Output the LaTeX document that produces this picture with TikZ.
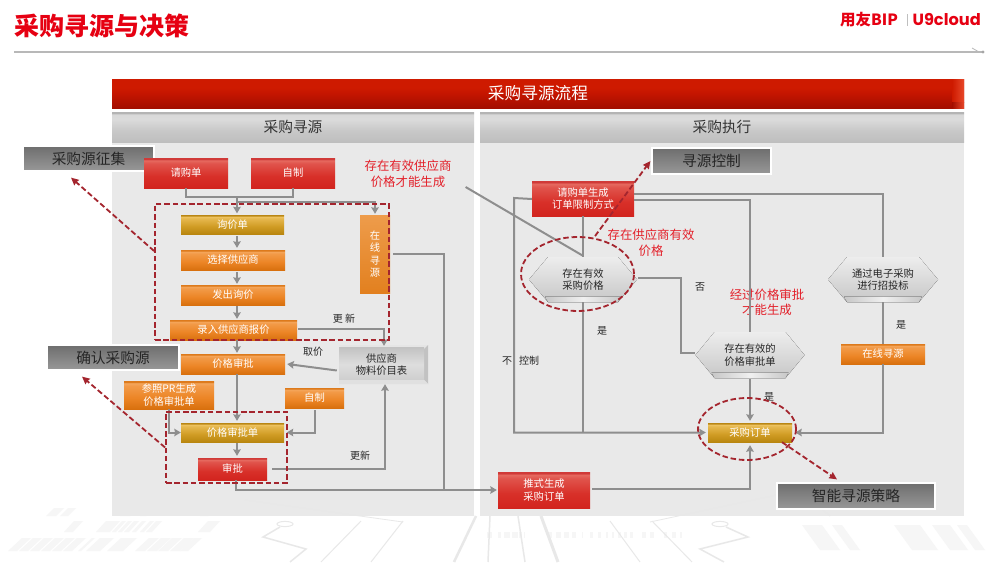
\documentclass[tikz,border=0pt]{standalone}
\usepackage{fontspec}
\usetikzlibrary{arrows.meta,shapes.geometric,calc}
\setmainfont{Noto Sans CJK SC}
\newfontfamily\logofont{Poppins}
\definecolor{panelgray}{HTML}{E9E9E9}
\definecolor{conngray}{HTML}{8E8E8E}
\definecolor{dashred}{HTML}{A4252E}
\definecolor{notered}{HTML}{E3202A}
\definecolor{brandred}{HTML}{E60012}
\definecolor{decogray}{HTML}{F6F6F6}
\definecolor{decoline}{HTML}{E8E8E8}
\definecolor{tagtop}{HTML}{6E6E6E}
\definecolor{tagbot}{HTML}{989898}
\definecolor{oa}{HTML}{D8700E}\definecolor{ob}{HTML}{EC8526}\definecolor{oc}{HTML}{F29A48}\definecolor{od}{HTML}{F4A65C}\definecolor{oe}{HTML}{DD7A1C}
\definecolor{ga}{HTML}{B9860F}\definecolor{gb}{HTML}{D09C24}\definecolor{gc}{HTML}{E6B84E}\definecolor{gd}{HTML}{EFC565}\definecolor{ge}{HTML}{B98614}
\definecolor{ra}{HTML}{D2241E}\definecolor{rb}{HTML}{D83029}\definecolor{rc}{HTML}{E0544C}\definecolor{rd}{HTML}{E66A60}\definecolor{re}{HTML}{D03A38}
\definecolor{ha}{HTML}{BEBEBE}\definecolor{hb}{HTML}{C9C9C9}\definecolor{hc}{HTML}{DCDCDC}\definecolor{hd}{HTML}{D8D8D8}\definecolor{he}{HTML}{B4B4B4}
\definecolor{ba}{HTML}{A30E00}\definecolor{bb}{HTML}{C41500}\definecolor{bc}{HTML}{CE1A00}\definecolor{bd}{HTML}{E8482A}
\definecolor{talltop}{HTML}{EE9C4B}\definecolor{tallbot}{HTML}{E2801F}
\pgfdeclareverticalshading{orangeshade}{100bp}{color(0bp)=(oa);color(25bp)=(oa);color(45bp)=(ob);color(66bp)=(oc);color(71bp)=(od);color(73.2bp)=(oe);color(75bp)=(oe);color(100bp)=(oe)}
\pgfdeclareverticalshading{goldshade}{100bp}{color(0bp)=(ga);color(25bp)=(ga);color(45bp)=(gb);color(66bp)=(gc);color(71bp)=(gd);color(73.2bp)=(ge);color(75bp)=(ge);color(100bp)=(ge)}
\pgfdeclareverticalshading{redshade}{100bp}{color(0bp)=(ra);color(25bp)=(ra);color(45bp)=(rb);color(66bp)=(rc);color(71bp)=(rd);color(73.2bp)=(re);color(75bp)=(re);color(100bp)=(re)}
\pgfdeclareverticalshading{headshade}{100bp}{color(0bp)=(ha);color(25bp)=(ha);color(45bp)=(hb);color(64bp)=(hc);color(71bp)=(hd);color(73bp)=(he);color(75bp)=(he);color(100bp)=(he)}
\pgfdeclareverticalshading{bannershade}{100bp}{color(0bp)=(ba);color(25bp)=(ba);color(50bp)=(bb);color(60bp)=(bc);color(75bp)=(bc);color(100bp)=(bc)}
\tikzset{
  x=1pt,y=-1pt,
  txt/.style={inner sep=0pt,align=center,font=\fontsize{10.3}{12.5}\selectfont,text=white},
  sized/.style 2 args={minimum width=#1 pt,minimum height=#2 pt},
  orangebox/.style={txt,shading=orangeshade},
  tallbox/.style={txt,top color=talltop,bottom color=tallbot},
  goldbox/.style={txt,shading=goldshade},
  redbox/.style={txt,shading=redshade},
  tagbox/.style={txt,draw=white,line width=1.2pt,top color=tagtop,bottom color=tagbot,text=black!85,font=\fontsize{14.7}{17}\selectfont},
  headbox/.style={txt,shading=headshade,text=black!80,font=\fontsize{14.7}{17}\selectfont},
  conn/.style={draw=conngray,line width=2pt,line join=miter},
  arr/.style={conn,-{Stealth[length=6.5pt,width=7.5pt,inset=0.8pt]}},
  rdash/.style={draw=dashred,line width=1.8pt,dash pattern=on 5.5pt off 2.8pt},
  rarr/.style={rdash,-{Stealth[length=7.5pt,width=7pt,inset=0.5pt,fill=dashred]}},
  small/.style={inner sep=0pt,font=\fontsize{10}{12}\selectfont,text=black!85},
  note/.style={inner sep=0pt,align=center,font=\fontsize{12.4}{15.5}\selectfont,text=notered},
  deco/.style={fill=decogray,draw=none},
  decol/.style={draw=decoline,line width=1pt},
}
\newcommand{\hexn}[6]{% name, cx, cy, half width, half height, text
  \fill[top color=black!7,bottom color=black!22] ({#2-#4},{#3}) -- ({#2-#4+19},{#3-#5}) -- ({#2+#4-19},{#3-#5}) -- ({#2+#4},{#3}) -- ({#2+#4-19},{#3+#5}) -- ({#2-#4+19},{#3+#5}) -- cycle;
  \fill[left color=black!22,right color=black!22,middle color=black!6] ({#2-#4+16},{#3+#5-5.5}) -- ({#2+#4-16},{#3+#5-5.5}) -- ({#2+#4-19},{#3+#5}) -- ({#2-#4+19},{#3+#5}) -- cycle;
  \node[small,align=center,font=\fontsize{10.3}{12.5}\selectfont,minimum width={2*#4 pt},minimum height={2*#5 pt}] (#1) at (#2,#3) {#6};
}
\newcommand{\strip}[4]{% y top, height, slant, list x/w
  \foreach \xa/\wa in {#4} {\fill[deco] ({\xa+#3},{#1}) -- ({\xa+\wa+#3},{#1}) -- ({\xa+\wa},{#1+#2}) -- ({\xa},{#1+#2}) -- cycle;}
}
\begin{document}
\begin{tikzpicture}
\path[use as bounding box] (0,0) rectangle (1000,562);
\fill[white] (0,0) rectangle (1000,562);
% background circuit decoration
\strip{538}{13}{14}{8/9,19/9,30/9,41/9,52/9,63/9,78/3,86/14,107/16,135/10,147/10,158/10,170/10,180/8}
\strip{521}{11}{10}{64/9,96/14,112/4,118/4,124/5,132/4,140/4,146/6,198/12}
\strip{508}{8}{8}{46/10,60/8,120/10,140/6,200/8}
\strip{525}{25}{-18}{820/20,850/10,912/26,950/18,975/10}
\foreach \xa/\wa in {487/5,498/3,504/6,512/6,519/3,524/1,548/4,556/5,564/5,572/4,582/1,590/3,598/3,606/2,612/2,618/3,624/3,630/3,642/4,650/4,664/3,672/4,680/2}
  \fill[decogray] (\xa,532) rectangle ({\xa+\wa},538);
\draw[decol] (285,524) ellipse (8 and 2.6);
\draw[decol,line width=1.5pt] (280,527) -- (263,537) -- (306,549) -- (290,562);
\draw[decol] (361,521) -- (321,562);
\draw[decol] (403,521) -- (371,562);
\draw[decol] (720,524) ellipse (8 and 2.6);
\draw[decol,line width=1.5pt] (726,527) -- (748,537) -- (700,549) -- (724,562);
\draw[decol] (610,521) -- (640,562);
\draw[decol] (652,521) -- (692,562);
\draw[decol,line width=2.5pt] (476,516) -- (454,562);
\draw[decol,line width=1.5pt] (490,516) -- (488,562);
\draw[decol,line width=1.5pt] (518,516) -- (525,562);
\draw[decol,line width=3pt] (541,516) -- (558,562);
% panels
\fill[panelgray] (112,112) rectangle (474,516);
\fill[panelgray] (480,112) rectangle (964,516);
\draw[black!9,line width=.8pt] (245,500) -- (403,522);
\draw[black!9,line width=.8pt] (650,522) -- (800,490) -- (830,516);
% title
\node[anchor=west,inner sep=0pt,text=brandred,font=\fontsize{25}{28}\bfseries\selectfont] (title) at (14,26) {采购寻源与决策};
\node[anchor=west,inner sep=0pt,text=brandred,font=\fontsize{15.5}{16}\bfseries\selectfont] (logoa) at (840,20) {用友BIP};
\node[anchor=east,inner sep=0pt,text=brandred,font=\fontsize{16.2}{16}\logofont\bfseries\selectfont] (logob) at (981,20) {U9cloud};
\draw[black!25,line width=.9pt] (907,14) -- (907,26);
\draw[black!28,line width=1.2pt] (14,52) -- (983,52);
\draw[black!28,line width=.8pt] (972,48) -- (979,52);
\fill[black!35] (983,52) circle (1.6);
% banner
\node[txt,shading=bannershade,sized={852}{29},font=\fontsize{16.7}{19}\selectfont] (banner) at (538,93.5) {采购寻源流程};
\shade[left color=bc,right color=bd] (952,79) rectangle (964,102);
\shade[left color=ba,right color=bd] (952,102) rectangle (964,108);
\node[headbox,sized={362}{30}] (headL) at (293,127) {采购寻源};
\node[headbox,sized={484}{30}] (headR) at (722,127) {采购执行};
% tags
\node[tagbox,sized={131}{25}] (tagA) at (88.5,158.5) {采购源征集};
\node[tagbox,sized={132}{25}] (tagB) at (113,357.5) {确认采购源};
\node[tagbox,sized={119}{26}] (tagC) at (711.5,161) {寻源控制};
\node[tagbox,sized={158}{26}] (tagD) at (856,496) {智能寻源策略};
% left nodes
\node[redbox,sized={84}{30}] (qg) at (186,173) {请购单};
\node[redbox,sized={84}{30}] (zz) at (293,173) {自制};
\node[goldbox,sized={103}{19}] (xj) at (232.5,224.5) {询价单};
\node[orangebox,sized={104}{20}] (xg) at (233,260) {选择供应商};
\node[orangebox,sized={104}{20}] (fc) at (233,295) {发出询价};
\node[orangebox,sized={127}{20}] (lr) at (233.5,330) {录入供应商报价};
\node[orangebox,sized={104}{20}] (jg) at (233,364) {价格审批};
\node[orangebox,sized={90}{28}] (pr) at (169,395) {参照PR生成\\价格审批单};
\node[orangebox,sized={59}{20}] (zy) at (314.5,398) {自制};
\node[goldbox,sized={103}{19}] (jd) at (232.5,432.5) {价格审批单};
\node[redbox,sized={69}{22}] (sp) at (232.5,469) {审批};
\node[tallbox,sized={30}{78}] (zx) at (375,254) {在\\线\\寻\\源};
% supplier table
\fill[black!10] (339,345) -- (428,345) -- (424,349) -- (343,349) -- cycle;
\fill[black!24] (428,345) -- (428,384) -- (424,380) -- (424,349) -- cycle;
\node[small,top color=black!24,bottom color=black!20,middle color=black!13,sized={85}{35},align=center,font=\fontsize{10.3}{12.8}\selectfont] (gys) at (381.5,364.5) {供应商\\物料价目表};
\fill[black!12] (339,380) -- (424,380) -- (428,384) -- (339,384) -- cycle;
% right nodes
\node[redbox,sized={102}{35}] (qd) at (583,198.5) {请购单生成\\订单限制方式};
\hexn{hA}{583}{279.5}{54}{22.5}{存在有效\\采购价格}
\hexn{hB}{750}{355}{54.5}{23}{存在有效的\\价格审批单}
\hexn{hC}{883}{279.5}{55}{22.5}{通过电子采购\\进行招投标}
\node[orangebox,sized={84}{20}] (zr) at (883,354) {在线寻源};
\node[goldbox,sized={84}{19}] (dd) at (750,432.5) {采购订单};
\node[redbox,sized={92}{36}] (ts) at (544,490) {推式生成\\采购订单};
% labels
\node[note] (n1) at (408,174) {存在有效供应商\\价格才能生成};
\node[note] (n2) at (651,243) {存在供应商有效\\价格};
\node[note] (n3) at (767,302.5) {经过价格审批\\才能生成};
\node[small] (l1) at (344,319) {更 新};
\node[small] (l2) at (313,352) {取价};
\node[small] (l3) at (360,456) {更新};
\node[small] (l4) at (700,287) {否};
\node[small] (l5) at (602,331) {是};
\node[small] (l6) at (507,361) {不};
\node[small] (l7) at (529,361) {控制};
\node[small] (l8) at (901,325) {是};
\node[small] (l9) at (769,397) {是};
% junction coordinates
\coordinate (jTop) at (237,197);
\coordinate (jBus) at (237,202);
\coordinate (jOut) at (444,490);
\coordinate (jCtl) at (583,432);
\coordinate (jLeft) at (514,198);
% left connectors
\draw[conn] (qg.south) -- ++(0,9) -| (zz.south);
\draw[arr] (jTop) -- ([xshift=4.5pt,yshift=1.5pt]xj.north);
\draw[arr] (jBus) -| ([yshift=1pt]zx.north);
\draw[arr] ([xshift=4.5pt,yshift=-2pt]xj.south) -- ([xshift=4pt,yshift=2pt]xg.north);
\draw[arr] ([xshift=4pt,yshift=-2pt]xg.south) -- ([xshift=4pt,yshift=1pt]fc.north);
\draw[arr] ([xshift=4pt,yshift=-1pt]fc.south) -- ([xshift=3.5pt,yshift=1pt]lr.north);
\draw[arr] ([xshift=3.5pt]lr.south) -- ([xshift=4pt,yshift=1pt]jg.north);
\draw[arr] ([xshift=4pt]jg.south) -- ([xshift=4.5pt,yshift=2pt]jd.north);
\draw[arr] ([xshift=4.5pt,yshift=-1pt]jd.south) -- ([xshift=4.5pt,yshift=2pt]sp.north);
\draw[arr] ([xshift=1pt,yshift=1pt]lr.east) -| ([xshift=2.5pt,yshift=1pt]gys.north);
\draw[arr] ([yshift=-6pt,xshift=-2pt]gys.west) -- ([xshift=2pt]jg.east);
\draw[arr] (pr.south) |- (jd.west);
\draw[arr] ([yshift=-2pt]zy.south) |- ([xshift=2.5pt]jd.east);
\draw[arr] ([xshift=5pt]sp.east) -| ([xshift=3.5pt,yshift=-2pt]gys.south);
\draw[arr] ([xshift=3.5pt]sp.south) |- ([xshift=-1pt]ts.west);
\draw[conn] ([xshift=3pt]zx.east) -| (jOut);
% right connectors
\draw[conn] (n1.east) ++(14,13) -- ([yshift=1pt]hA.north);
\draw[arr] ([yshift=-.5pt]qd.west) -- (jLeft) |- ([xshift=-2pt]dd.west);
\draw[conn] (qd.south) -- (hA.north);
\draw[conn] (hA.south) -- (jCtl);
\draw[conn] ([yshift=4.5pt]qd.east) -| (hC.north);
\draw[conn] ([yshift=-1.5pt]qd.east) -| (hB.north);
\draw[conn] (hC.south) -- (zr.north);
\draw[arr] (zr.south) |- ([xshift=3pt]dd.east);
\draw[conn] ([xshift=1pt,yshift=1.5pt]hA.east) -| ([xshift=-14pt,yshift=2pt]hB.west) -- ([yshift=2pt]hB.west);
\draw[arr] ([yshift=-1pt]hB.south) -- ([yshift=2pt]dd.north);
\draw[arr] ([xshift=2pt,yshift=1pt]ts.east) -| ([yshift=-3pt]dd.south);
% dashed frames
\node[rdash,draw,minimum width=234pt,minimum height=136pt,inner sep=0pt] (frA) at (272,272) {};
\node[rdash,draw,minimum width=121pt,minimum height=71pt,inner sep=0pt] (frB) at (226.5,447.5) {};
\node[rdash,draw,ellipse,minimum width=113pt,minimum height=74pt,inner sep=0pt] (elA) at (577.5,274) {};
\node[rdash,draw,ellipse,minimum width=98pt,minimum height=62pt,inner sep=0pt] (elB) at (747,429) {};
\draw[rarr] ([yshift=21pt]frA.west) -- ([xshift=-17.5pt,yshift=-6pt]tagA.south);
\draw[rarr] (frB.west) -- ([xshift=-31pt,yshift=-6pt]tagB.south);
\draw[rarr] ([xshift=17.5pt]elA.north) -- ([xshift=-1pt]tagC.west);
\draw[rarr] ([xshift=32pt]dd.south) -- ([xshift=-19pt,yshift=3pt]tagD.north);
\end{tikzpicture}
\end{document}
